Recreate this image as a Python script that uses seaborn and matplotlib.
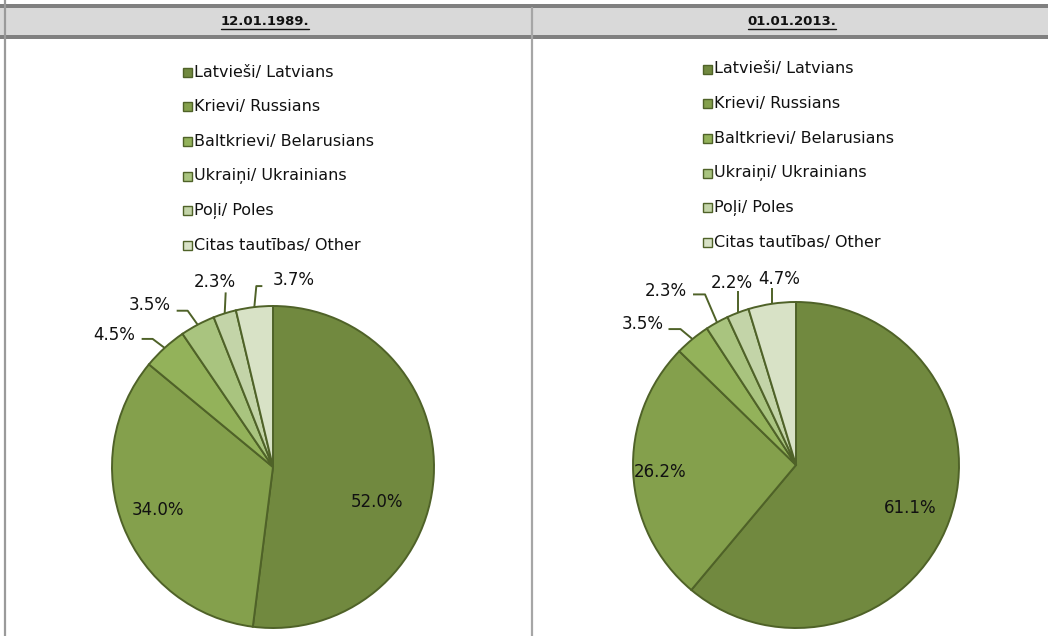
import numpy as np
import matplotlib
matplotlib.use('Agg')
import matplotlib.pyplot as plt
import seaborn as sns
from matplotlib.patches import Rectangle

# Data
groups = ['Latvieši/ Latvians', 'Krievi/ Russians', 'Baltkrievi/ Belarusians',
          'Ukraiņi/ Ukrainians', 'Poļi/ Poles', 'Citas tautības/ Other']
dates = ['12.01.1989.', '01.01.2013.']
share_1989 = [52.0, 34.0, 4.5, 3.5, 2.3, 3.7]
share_2013 = [61.1, 26.2, 3.5, 2.3, 2.2, 4.7]

colors = ['#71893F', '#84A04C', '#93B25A', '#A9C47F', '#C3D4A8', '#D8E2C6']
edge = '#4F6228'

sns.set_theme(style='white')
plt.rcParams['font.family'] = ['DejaVu Sans']

W, H = 1048, 636
fig = plt.figure(figsize=(W / 100, H / 100), dpi=100)
ax = fig.add_axes([0, 0, 1, 1])


def Y(y):
    return H - y


# layout for each panel (pixel coords, image y down)
panels = [
    dict(values=share_1989, date=dates[0], head_x=265, center=(273, 467), r=161,
         leg_x=187, leg_y=72,
         inner=[(104, 35), (-115, 43)],
         outer=[([(0, 0), (-12, -9), (-23, -9)], (-50, -13)),
                ([(0, 0), (-10, -14), (-21, -14)], (-48, -20)),
                ([(0, 0), (1, -21)], (-10, -31)),
                ([(0, 0), (2, -21), (8, -21)], (39, -27))]),
    dict(values=share_2013, date=dates[1], head_x=792, center=(796, 465), r=163,
         leg_x=707, leg_y=69,
         inner=[(114, 43), (-136, 7)],
         outer=[([(0, 0), (-12, -10), (-24, -10)], (-50, -15)),
                ([(0, 0), (-12, -28), (-24, -28)], (-51, -31)),
                ([(0, 0), (0, -22)], (-6, -30)),
                ([(0, 0), (0, -16)], (7, -25))]),
]

# table frame
ax.add_patch(Rectangle((0, Y(7.5)), W, 3.5, color='#808080', lw=0))
ax.add_patch(Rectangle((0, Y(35)), W, 27.5, color='#D9D9D9', lw=0))
ax.add_patch(Rectangle((0, Y(39)), W, 4, color='#808080', lw=0))
ax.plot([5, 5], [Y(0), Y(H)], color='#9A9A9A', lw=1.6)
ax.plot([532, 532], [Y(7.5), Y(H)], color='#A6A6A6', lw=1.6)

head_texts = []
for p in panels:
    vals = np.array(p['values'])
    cx, cy = p['center']
    r = p['r']
    ax.pie(vals, colors=colors, startangle=90, counterclock=False,
           center=(cx, Y(cy)), radius=r,
           wedgeprops=dict(edgecolor=edge, linewidth=1.4))

    # angle boundaries (degrees, clockwise from top)
    ends = 90 - np.cumsum(vals) * 3.6
    starts = np.concatenate([[90], ends[:-1]])
    mids = np.deg2rad((starts + ends) / 2)

    # inner labels
    for i, (dx, dy) in enumerate(p['inner']):
        ax.text(cx + dx, Y(cy + dy), f'{vals[i]:.1f}%', ha='center', va='center',
                fontsize=12, color='#111111')

    # outer labels with leader lines
    for k, (verts, (tx, ty)) in enumerate(p['outer']):
        i = k + 2
        ax_ = cx + r * np.cos(mids[i])
        ay_ = cy - r * np.sin(mids[i])
        xs = [ax_ + v[0] for v in verts]
        ys = [Y(ay_ + v[1]) for v in verts]
        ax.plot(xs, ys, color=edge, lw=1.4, solid_capstyle='butt')
        ax.text(ax_ + tx, Y(ay_ + ty), f'{vals[i]:.1f}%', ha='center', va='center',
                fontsize=12, color='#111111')

    # legend
    for j, g in enumerate(groups):
        yy = p['leg_y'] + j * 34.7
        ax.add_patch(Rectangle((p['leg_x'] - 4.5, Y(yy + 4.5)), 9, 9,
                               facecolor=colors[j], edgecolor=edge, lw=1.0))
        ax.text(p['leg_x'] + 7, Y(yy), g, ha='left', va='center',
                fontsize=11.5, color='#111111')

    # header
    t = ax.text(p['head_x'], Y(21.5), p['date'], ha='center', va='center',
                fontsize=9.5, fontweight='bold', color='#111111')
    head_texts.append(t)

ax.set_xlim(0, W)
ax.set_ylim(0, H)
ax.set_aspect('auto')
ax.axis('off')

# underline headers
fig.canvas.draw()
inv = ax.transData.inverted()
for t in head_texts:
    bb = t.get_window_extent()
    x0, _ = inv.transform((bb.x0, bb.y0))
    x1, _ = inv.transform((bb.x1, bb.y0))
    ax.plot([x0, x1], [Y(28.5), Y(28.5)], color='#111111', lw=1.0)

fig.savefig('out.png', dpi=100)
